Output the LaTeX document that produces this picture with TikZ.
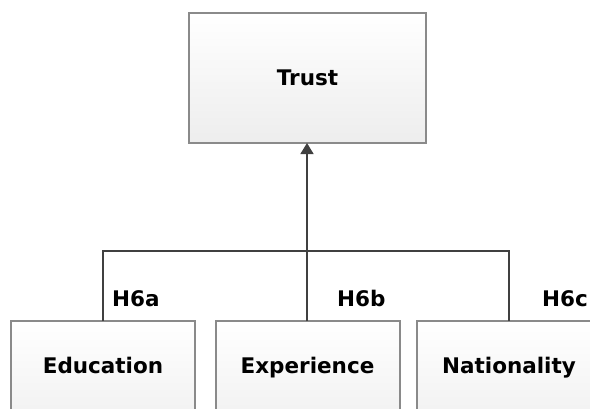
\documentclass[tikz,border=0pt]{standalone}
\usepackage{fontspec}
\setmainfont{DejaVu Sans}
\usetikzlibrary{arrows.meta}
\definecolor{boxline}{HTML}{8A8A8A}
\definecolor{linkline}{HTML}{404040}
\definecolor{boxbottom}{HTML}{EDEDED}
\begin{document}
\begin{tikzpicture}[x=1pt,y=-1pt,
  varbox/.style={draw=boxline, line width=1.2pt, top color=white, bottom color=boxbottom,
    minimum width=184pt, minimum height=130pt, inner sep=0pt, outer sep=0pt},
  boxtext/.style={font=\fontsize{21.5}{25}\selectfont\bfseries, text=black, anchor=base, inner sep=0pt},
  hlabel/.style={font=\fontsize{21.5}{25}\selectfont\bfseries, anchor=base west, inner sep=0pt},
  link/.style={draw=linkline, line width=1.4pt},
  arrowlink/.style={link, -{Triangle[length=11pt,width=13pt]}}]
\useasboundingbox (0,0) rectangle (590,408);
\clip (0,0) rectangle (590,408);

% target variable
\node[varbox, minimum width=237pt] (trust) at (307.5,78) {};
\node[boxtext] (trustt) at (307.5,85.5) {Trust};

% predictor variables
\node[varbox, anchor=north west] (edu) at (11,321) {};
\node[varbox, anchor=north west] (exp) at (216,321) {};
\node[varbox, anchor=north west] (nat) at (417,321) {};
\node[boxtext] (edut) at (103,373.5) {Education};
\node[boxtext] (expt) at (307.5,373.5) {Experience};
\node[boxtext] (natt) at (509,373.5) {Nationality};

% junction points on the shared bus
\coordinate (busa) at (103,251);
\coordinate (busb) at (307,251);
\coordinate (busc) at (509,251);

\draw[link] (edu.north -| busa) -- (busa) -- (busc) -- (nat.north -| busc);
\draw[arrowlink] (exp.north -| busb) -- (trust.south -| busb);

% hypothesis labels
\node[hlabel] (h6a) at (112,306) {H6a};
\node[hlabel] (h6b) at (337,306) {H6b};
\node[hlabel] (h6c) at (542,306) {H6c};
\end{tikzpicture}
\end{document}
